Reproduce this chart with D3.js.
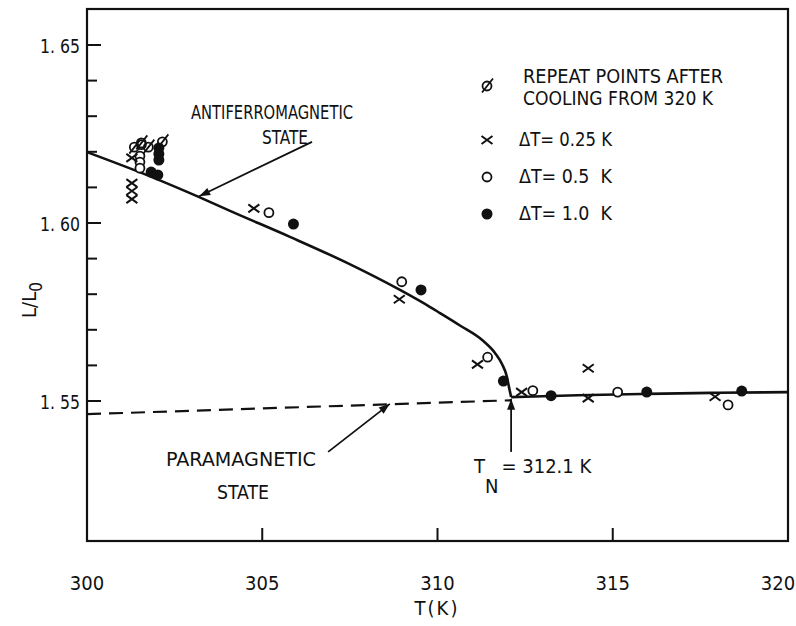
<!DOCTYPE html>
<html><head><meta charset="utf-8">
<script src="https://cdn.jsdelivr.net/npm/d3@7"></script>
<style>
body{margin:0;background:#fff;}
text{font-family:"DejaVu Sans Condensed","Liberation Sans Narrow","Liberation Sans",sans-serif;fill:#111;}
</style></head>
<body><svg id="c" width="796" height="626"></svg>
<script>
// ---- data ----
const afmT = [300.00, 301.80, 303.17, 304.08, 305.79, 307.42, 308.93, 309.79, 310.07, 310.64, 311.30, 311.64, 311.84, 311.98, 312.04, 312.10];
const afmL = [1.6199, 1.6131, 1.6074, 1.6034, 1.5961, 1.5888, 1.5812, 1.5764, 1.5747, 1.5712, 1.5669, 1.5635, 1.5604, 1.5568, 1.5539, 1.5511];
const paraT = [312.10, 314.0, 316.0, 318.0, 320.0];
const paraL = [1.5511, 1.5516, 1.5520, 1.5523, 1.5525];
const dashT = [300.0, 312.1];
const dashL = [1.5463, 1.5502];

const crossT = [301.28, 301.28, 301.28, 301.28, 304.76, 308.91, 311.14, 312.40, 314.30, 314.30, 317.92];
const crossL = [1.6183, 1.6112, 1.6090, 1.6067, 1.6041, 1.5786, 1.5603, 1.5525, 1.5592, 1.5508, 1.5512];
const openT = [301.55, 301.51, 301.51, 301.51, 305.19, 308.98, 311.43, 312.72, 315.14, 318.29];
const openL = [1.6220, 1.6188, 1.6171, 1.6154, 1.6029, 1.5835, 1.5623, 1.5529, 1.5525, 1.5489];
const filledT = [301.83, 302.02, 302.05, 302.05, 302.05, 305.89, 309.53, 311.88, 313.24, 315.97, 318.68];
const filledL = [1.6143, 1.6135, 1.6211, 1.6194, 1.6177, 1.5997, 1.5812, 1.5556, 1.5515, 1.5525, 1.5528];
const repeatT = [301.35, 301.55, 301.75, 302.15];
const repeatL = [1.6213, 1.6225, 1.6213, 1.6228];

const xTicks = [300, 305, 310, 315, 320];
const xTickLabels = ["300", "305", "310", "315", "320"];
const yMajor = [1.55, 1.60, 1.65];
const yMajorLabels = ["1. 55", "1. 60", "1. 65"];
const yMinor = [1.56, 1.57, 1.58, 1.59, 1.61, 1.62, 1.63, 1.64];
const legendLabels = ["\u0394T= 0.25 K", "\u0394T= 0.5  K", "\u0394T= 1.0  K"];

// ---- layout ----
const L = 87, R = 788, T = 9, B = 541;
const x = d3.scaleLinear().domain([300, 320]).range([L, R]);
const y = d3.scaleLinear().domain([1.55, 1.65]).range([401, 45]);
const svg = d3.select("#c");

svg.append("rect").attr("x", L).attr("y", T).attr("width", R - L).attr("height", B - T)
  .attr("fill", "none").attr("stroke", "#111").attr("stroke-width", 2.2);

svg.selectAll(".ymaj").data(yMajor).join("line")
  .attr("x1", L).attr("x2", L + 14).attr("y1", d => y(d)).attr("y2", d => y(d))
  .attr("stroke", "#111").attr("stroke-width", 2);
svg.selectAll(".ymin").data(yMinor).join("line")
  .attr("x1", L).attr("x2", L + 10).attr("y1", d => y(d)).attr("y2", d => y(d))
  .attr("stroke", "#111").attr("stroke-width", 2);
svg.selectAll(".ylab").data(yMajor).join("text")
  .attr("x", 80).attr("y", d => y(d) + 2).attr("text-anchor", "end")
  .attr("dominant-baseline", "middle").attr("font-size", 20)
  .attr("textLength", 40).attr("lengthAdjust", "spacingAndGlyphs")
  .text((d, i) => yMajorLabels[i]);

svg.selectAll(".xt").data(xTicks.slice(1, 4)).join("line")
  .attr("x1", d => x(d)).attr("x2", d => x(d)).attr("y1", B).attr("y2", B - 13)
  .attr("stroke", "#111").attr("stroke-width", 2);
svg.selectAll(".xlab").data(xTicks).join("text")
  .attr("x", (d, i) => i === xTicks.length - 1 ? 778 : x(d))
  .attr("y", 584).attr("text-anchor", "middle")
  .attr("dominant-baseline", "middle").attr("font-size", 20)
  .text((d, i) => xTickLabels[i]);

svg.append("text").attr("x", 437).attr("y", 609).attr("text-anchor", "middle")
  .attr("dominant-baseline", "middle").attr("font-size", 20).attr("letter-spacing", 2).text("T(K)");
const yl = svg.append("text").attr("transform", "translate(36,300) rotate(-90)")
  .attr("text-anchor", "middle").attr("font-size", 20);
yl.append("tspan").text("L/L");
yl.append("tspan").attr("dy", 6).attr("font-size", 17).text("0");

// curves
const afmPts = afmT.map((t, i) => [t, afmL[i]]);
const paraPts = paraT.map((t, i) => [t, paraL[i]]);
svg.append("path").attr("d", d3.line().x(d => x(d[0])).y(d => y(d[1])).curve(d3.curveMonotoneX)(afmPts))
  .attr("fill", "none").attr("stroke", "#111").attr("stroke-width", 2.6);
svg.append("path").attr("d", d3.line().x(d => x(d[0])).y(d => y(d[1])).curve(d3.curveMonotoneX)(paraPts))
  .attr("fill", "none").attr("stroke", "#111").attr("stroke-width", 2.6);
svg.append("path").attr("d", d3.line().x(d => x(d[0])).y(d => y(d[1]))(dashT.map((t, i) => [t, dashL[i]])))
  .attr("fill", "none").attr("stroke", "#111").attr("stroke-width", 2.2).attr("stroke-dasharray", "14,8");

// markers
function drawCross(g, cx, cy) {
  g.append("path").attr("d", `M${cx-5.5},${cy-4}L${cx+5.5},${cy+4}M${cx-5.5},${cy+4}L${cx+5.5},${cy-4}`)
    .attr("stroke", "#111").attr("stroke-width", 2).attr("fill", "none");
}
function drawOpen(g, cx, cy) {
  g.append("circle").attr("cx", cx).attr("cy", cy).attr("r", 4.5)
    .attr("fill", "#fff").attr("stroke", "#111").attr("stroke-width", 1.8);
}
function drawFilled(g, cx, cy) {
  g.append("circle").attr("cx", cx).attr("cy", cy).attr("r", 5.5).attr("fill", "#111");
}
function drawRepeat(g, cx, cy) {
  g.append("circle").attr("cx", cx).attr("cy", cy).attr("r", 4.5)
    .attr("fill", "none").attr("stroke", "#111").attr("stroke-width", 1.8);
  g.append("line").attr("x1", cx - 5).attr("y1", cy + 6.5).attr("x2", cx + 6).attr("y2", cy - 7.5)
    .attr("stroke", "#111").attr("stroke-width", 1.8);
}
const gm = svg.append("g");
openT.forEach((t, i) => drawOpen(gm, x(t), y(openL[i])));
filledT.forEach((t, i) => drawFilled(gm, x(t), y(filledL[i])));
crossT.forEach((t, i) => drawCross(gm, x(t), y(crossL[i])));
repeatT.forEach((t, i) => drawRepeat(gm, x(t), y(repeatL[i])));

// arrows
function arrow(x1, y1, x2, y2) {
  svg.append("line").attr("x1", x1).attr("y1", y1).attr("x2", x2).attr("y2", y2)
    .attr("stroke", "#111").attr("stroke-width", 1.8);
  const a = Math.atan2(y2 - y1, x2 - x1), len = 11, w = 4;
  const bx = x2 - len * Math.cos(a), by = y2 - len * Math.sin(a);
  const px = -Math.sin(a) * w, py = Math.cos(a) * w;
  svg.append("path").attr("d", `M${x2},${y2}L${bx+px},${by+py}L${bx-px},${by-py}Z`).attr("fill", "#111");
}
arrow(x(306.42), y(1.6228), x(303.2), y(1.6075));
arrow(x(306.88), y(1.5357), x(308.64), y(1.5492));
arrow(x(312.1), y(1.5357), x(312.1), y(1.5506));

// annotation text
function label(tx, ty, s, size, len) {
  const t = svg.append("text").attr("x", tx).attr("y", ty).attr("text-anchor", "middle")
    .attr("dominant-baseline", "middle").attr("font-size", size).text(s);
  if (len) t.attr("textLength", len).attr("lengthAdjust", "spacingAndGlyphs");
  return t;
}
label(272, 113, "ANTIFERROMAGNETIC", 19, 162);
label(285, 138, "STATE", 19, 46);
label(241, 460, "PARAMAGNETIC", 19, 150);
label(243, 493, "STATE", 19, 52);
const tn = svg.append("text").attr("x", 474).attr("y", 467).attr("font-size", 20).attr("dominant-baseline", "middle");
tn.append("tspan").text("T");
tn.append("tspan").attr("dy", 20).text("N");
tn.append("tspan").attr("dy", -20).attr("dx", 3).text("= 312.1 K");

// legend
const lx = 487;
drawRepeat(svg, lx, 86);
svg.append("text").attr("x", 523).attr("y", 77).attr("dominant-baseline", "middle").attr("font-size", 20)
  .attr("textLength", 200).attr("lengthAdjust", "spacingAndGlyphs").text("REPEAT POINTS AFTER");
svg.append("text").attr("x", 523).attr("y", 99).attr("dominant-baseline", "middle").attr("font-size", 20)
  .attr("textLength", 190).attr("lengthAdjust", "spacingAndGlyphs").text("COOLING FROM 320 K");
const ly = [140, 177, 214];
drawCross(svg, lx, ly[0]);
drawOpen(svg, lx, ly[1]);
drawFilled(svg, lx, ly[2]);
legendLabels.forEach((s, i) => {
  svg.append("text").attr("x", 519).attr("y", ly[i]).attr("dominant-baseline", "middle")
    .attr("font-size", 20).attr("xml:space", "preserve").style("white-space", "pre")
    .attr("textLength", 93).attr("lengthAdjust", "spacingAndGlyphs").text(s);
});
</script></body></html>
